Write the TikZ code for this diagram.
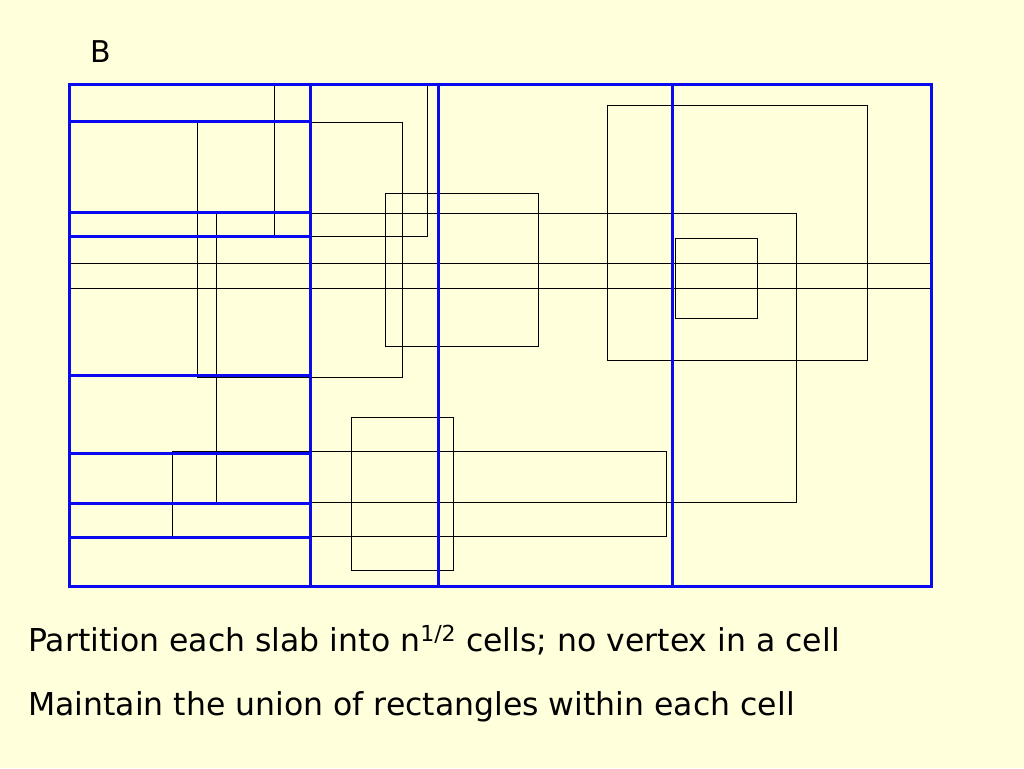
\documentclass[tikz,border=0pt]{standalone}
\usepackage{fontspec}
\setmainfont{DejaVu Sans}
\definecolor{bgyellow}{HTML}{FFFFDC}
\definecolor{slabblue}{HTML}{0A0AF0}
\begin{document}
\begin{tikzpicture}[x=1pt,y=-1pt,
  rect/.style={draw=black,line width=0.9pt},
  slab/.style={draw=slabblue,line width=3pt},
  label/.style={anchor=base west,inner sep=0pt,font=\fontsize{31.5}{36}\selectfont}]
\fill[bgyellow] (0,0) rectangle (1024,768);
\useasboundingbox (0,0) rectangle (1024,768);
% rectangles
\draw[rect] (274,84) rectangle (427,236);
\draw[rect] (197,122) rectangle (402,377);
\draw[rect] (216,213) rectangle (796,502);
\draw[rect] (385,193) rectangle (538,346);
\draw[rect] (69,263) -- (931,263);
\draw[rect] (69,288) -- (931,288);
\draw[rect] (607,105) rectangle (867,360);
\draw[rect] (675,238) rectangle (757,318);
\draw[rect] (351,417) rectangle (453,570);
\draw[rect] (172,451) rectangle (666,536);
% slabs and cells
\draw[slab] (69,84) rectangle (931,586);
\draw[slab] (310,84) -- (310,586);
\draw[slab] (438,84) -- (438,586);
\draw[slab] (672,84) -- (672,586);
\foreach \y in {121,212,236,375,453,503,537}
  \draw[slab] (69,\y) -- (310,\y);
% texts
\node[anchor=center,font=\fontsize{30}{34}\selectfont] (b) at (101,52) {B};
\node[label] (l1) at (28,651) {Partition each slab into n\textsuperscript{1/2} cells; no vertex in a cell};
\node[label] (l2) at (28,715) {Maintain the union of rectangles within each cell};
\end{tikzpicture}
\end{document}
